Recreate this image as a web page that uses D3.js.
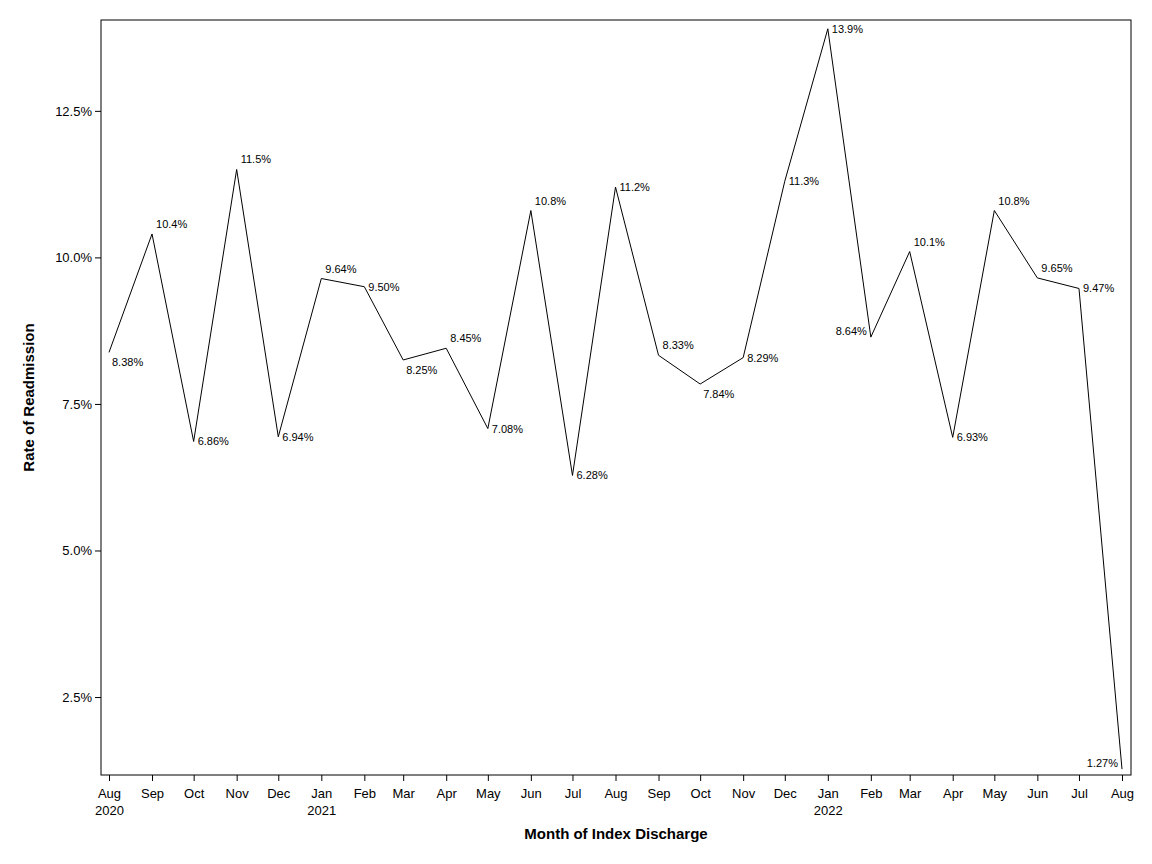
<!DOCTYPE html>
<html><head><meta charset="utf-8">
<script src="https://cdn.jsdelivr.net/npm/d3@7"></script>
<style>body{margin:0;background:#fff}text{font-family:"Liberation Sans",Arial,sans-serif}</style>
</head><body><div id="chart"></div>
<script>
// monthly readmission rate, Aug 2020 .. Aug 2022
const months = ["2020-08","2020-09","2020-10","2020-11","2020-12","2021-01","2021-02","2021-03","2021-04","2021-05","2021-06","2021-07","2021-08","2021-09","2021-10","2021-11","2021-12","2022-01","2022-02","2022-03","2022-04","2022-05","2022-06","2022-07","2022-08"];
const rates = [8.38,10.4,6.86,11.5,6.94,9.64,9.50,8.25,8.45,7.08,10.8,6.28,11.2,8.33,7.84,8.29,11.3,13.9,8.64,10.1,6.93,10.8,9.65,9.47,1.27];
const labels = ["8.38%","10.4%","6.86%","11.5%","6.94%","9.64%","9.50%","8.25%","8.45%","7.08%","10.8%","6.28%","11.2%","8.33%","7.84%","8.29%","11.3%","13.9%","8.64%","10.1%","6.93%","10.8%","9.65%","9.47%","1.27%"];
// which side of the point the label sits on
const labelSide = ["dr","ur","r","ur","r","ur","r","dr","ur","r","ur","r","r","ur","dr","r","r","r","l","ur","r","ur","ur","r","l"];
const yTicks = [2.5,5,7.5,10,12.5];

const W = 1152, H = 864;
const m = {left:101, right:21, top:20, bottom:89};
const svg = d3.select("#chart").append("svg").attr("width", W).attr("height", H);
const parse = d3.timeParse("%Y-%m");
const dates = months.map(parse);

const x = d3.scaleTime().domain(d3.extent(dates)).range([m.left+8, W-m.right-9]);
const y = d3.scaleLinear().domain([1.17, 14.05]).range([H-m.bottom, m.top]);

svg.append("rect").attr("x", m.left).attr("y", m.top)
  .attr("width", W-m.left-m.right).attr("height", H-m.top-m.bottom)
  .attr("fill","none").attr("stroke","#000");

const xAxis = svg.append("g").attr("transform", `translate(0,${H-m.bottom})`)
  .call(d3.axisBottom(x).tickValues(dates).tickSizeOuter(0).tickFormat(d3.timeFormat("%b")));
xAxis.select(".domain").remove();
xAxis.selectAll("text").attr("font-size", 13).attr("dy", "1.1em");
xAxis.selectAll(".tick").filter(d => d.getMonth() === 0 || +d === +dates[0])
  .append("text").attr("y", 26).attr("dy","1.1em").attr("fill","#000").attr("font-size",13)
  .text(d => d.getFullYear());

const yAxis = svg.append("g").attr("transform", `translate(${m.left},0)`)
  .call(d3.axisLeft(y).tickValues(yTicks).tickSizeOuter(0).tickFormat(d => d.toFixed(1) + "%"));
yAxis.select(".domain").remove();
yAxis.selectAll("text").attr("font-size", 13);

svg.append("text").attr("x", (m.left + W - m.right)/2).attr("y", 839)
  .attr("text-anchor","middle").attr("font-size",15).attr("font-weight","bold")
  .text("Month of Index Discharge");
svg.append("text").attr("transform", `translate(34,${(m.top + H - m.bottom)/2}) rotate(-90)`)
  .attr("text-anchor","middle").attr("font-size",15).attr("font-weight","bold")
  .text("Rate of Readmission");

svg.append("path").datum(rates)
  .attr("d", d3.line().x((d,i) => x(dates[i])).y(d => y(d)))
  .attr("fill","none").attr("stroke","#000").attr("stroke-width",1);

const off = {dr:[3,14,"start"], ur:[4,-6,"start"], r:[4,-2,"start"], l:[-4,-2,"end"]};
svg.append("g").selectAll("text").data(rates).join("text")
  .attr("x", (d,i) => x(dates[i]) + off[labelSide[i]][0])
  .attr("y", (d,i) => y(d) + off[labelSide[i]][1] + (labelSide[i]==="r" ? 6 : 0))
  .attr("text-anchor", (d,i) => off[labelSide[i]][2])
  .attr("font-size", 11).text((d,i) => labels[i]);
</script></body></html>
